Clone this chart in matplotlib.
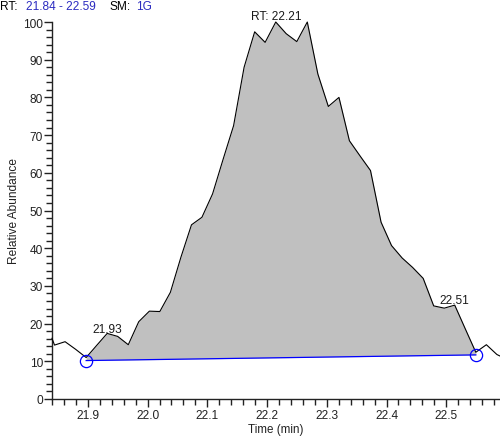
import matplotlib
matplotlib.use("Agg")
import matplotlib.pyplot as plt
from matplotlib.ticker import MultipleLocator
import numpy as np

plt.rcParams['font.family'] = ['Liberation Sans', 'DejaVu Sans']

# Chromatogram trace
times = [21.840, 21.8442, 21.8619, 21.8794, 21.8972, 21.9147, 21.9324, 21.9500,
         21.9677, 21.9852, 22.0030, 22.0205, 22.0382, 22.0558, 22.0735, 22.0910,
         22.1088, 22.1263, 22.1440, 22.1616, 22.1793, 22.1968, 22.2146, 22.2321,
         22.2498, 22.2674, 22.2851, 22.3026, 22.3204, 22.3379, 22.3556, 22.3732,
         22.3909, 22.4084, 22.4262, 22.4437, 22.4614, 22.4790, 22.4967, 22.5142,
         22.5319, 22.5495, 22.5672, 22.5848, 22.5900]
abundance = [16.1, 14.3, 15.2, 13.2, 11.0, 14.2, 17.4, 16.6,
             14.4, 20.5, 23.3, 23.2, 28.3, 37.6, 46.2, 48.2,
             54.4, 63.5, 72.5, 88.0, 97.4, 94.6, 100.0, 96.9,
             94.8, 100.0, 86.2, 77.6, 80.0, 68.5, 64.5, 60.6,
             46.9, 40.7, 37.4, 34.9, 32.0, 24.7, 24.1, 24.9,
             18.6, 12.4, 14.4, 11.8, 11.4]

# Integration baseline (start / end)
base_times = [21.8972, 22.5495]
base_values = [10.2, 11.7]

# Peak labels
label_times = [21.9324, 22.2146, 22.5142]
label_texts = ["21.93", "RT: 22.21", "22.51"]
label_offsets = [1.2, 2.2, 1.5]

xlim = (21.84, 22.59)
ylim = (0, 100)
xticks = [21.9, 22.0, 22.1, 22.2, 22.3, 22.4, 22.5]
xticklabels = ["21.9", "22.0", "22.1", "22.2", "22.3", "22.4", "22.5"]

W, H = 500, 439
fig = plt.figure(figsize=(W / 100, H / 100), dpi=100)
ax = fig.add_axes([52 / W, (H - 400) / H, (W - 52) / W, (400 - 23) / H])

t = np.array(times)
a = np.array(abundance)

# filled peak area
mask = (t >= base_times[0] - 1e-9) & (t <= base_times[1] + 1e-9)
base = np.interp(t, base_times, base_values)
ax.fill_between(t[mask], a[mask], base[mask], color='#c0c0c0', linewidth=0, zorder=1)

ax.plot(t, a, color='black', linewidth=0.8, zorder=3, clip_on=False)
ax.plot(base_times, base_values, color='#0000ff', linewidth=0.9, zorder=4)
ax.plot(base_times, base_values, linestyle='none', marker='o', markersize=8.8,
        markerfacecolor='none', markeredgecolor='#0000ff', markeredgewidth=0.9,
        zorder=5, clip_on=False)

for lt, txt, off in zip(label_times, label_texts, label_offsets):
    ly = np.interp(lt, t, a)
    ax.annotate(txt, xy=(lt, ly), xytext=(0, off), textcoords='offset points',
                ha='center', va='baseline', fontsize=8.6, color='#1a1a1a',
                annotation_clip=False)

ax.set_xlim(*xlim)
ax.set_ylim(*ylim)
ax.set_xticks(xticks)
ax.set_xticklabels(xticklabels)
ax.xaxis.set_minor_locator(MultipleLocator(0.02))
ax.yaxis.set_major_locator(MultipleLocator(10))
ax.yaxis.set_minor_locator(MultipleLocator(2))

for s in ['top', 'right']:
    ax.spines[s].set_visible(False)
for s in ['left', 'bottom']:
    ax.spines[s].set_linewidth(1.0)
    ax.spines[s].set_color('#222222')

ax.tick_params(axis='both', which='major', direction='out', labelsize=8.6,
               colors='#222222', width=1.0)
ax.tick_params(axis='y', which='major', length=6, pad=0.5)
ax.tick_params(axis='y', which='minor', length=4, width=1.0, colors='#222222')
ax.tick_params(axis='x', which='major', length=5.5, pad=1.5)
ax.tick_params(axis='x', which='minor', length=4, width=1.0, colors='#222222')

ax.set_xlabel("Time (min)", fontsize=8.4, labelpad=2, color='#222222')
ax.set_ylabel("Relative Abundance", fontsize=8.6, labelpad=2.5, color='#222222')

# header line
blue = '#2b2bc0'
hy = 1 - 9.5 / H
parts = [("RT:", 0, 'black'), ("21.84 - 22.59", 26.5, blue),
         ("SM:", 110, 'black'), ("1G", 136.5, blue)]
for txt, px, col in parts:
    fig.text(px / W, hy, txt, color=col, fontsize=8.6, ha='left', va='baseline')

fig.savefig("out.png", dpi=100)
